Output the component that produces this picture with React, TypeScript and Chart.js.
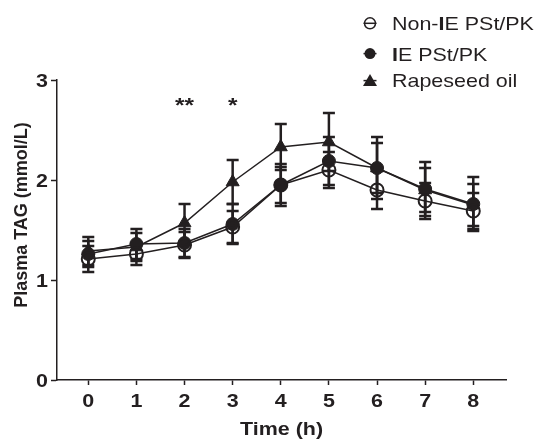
import { useEffect, useRef } from 'react';
import { Chart, registerables } from 'chart.js';

Chart.register(...registerables);

const times = [0, 1, 2, 3, 4, 5, 6, 7, 8];
const xTickValues = [0, 1, 2, 3, 4, 5, 6, 7, 8];
const yTickValues = [0, 1, 2, 3];

const seriesNames = ['Non-IE PSt/PK', 'IE PSt/PK', 'Rapeseed oil'];
const nonIE = [1.21, 1.26, 1.35, 1.53, 1.95, 2.1, 1.9, 1.79, 1.69];
const nonIEErr = [0.13, 0.11, 0.13, 0.16, 0.18, 0.18, 0.19, 0.18, 0.18];
const ie = [1.26, 1.36, 1.37, 1.56, 1.95, 2.19, 2.12, 1.91, 1.76];
const ieErr = [0.13, 0.15, 0.14, 0.2, 0.21, 0.24, 0.31, 0.27, 0.27];
const rapeseed = [1.29, 1.33, 1.57, 1.98, 2.33, 2.38, 2.12, 1.9, 1.75];
const rapeseedErr = [0.14, 0.14, 0.19, 0.22, 0.23, 0.29, 0.25, 0.22, 0.21];

const sigTimes = [2, 3];
const sigMarks = ['**', '*'];
const sigLevel = 2.68;

const xTitle = 'Time (h)';
const yTitle = 'Plasma TAG (mmol/L)';

const INK = '#231f20';
const FONT = '"Liberation Sans", Arial, sans-serif';
const SX = 1.16;

const errors = [nonIEErr, ieErr, rapeseedErr];

function stretchText(
  ctx: CanvasRenderingContext2D,
  text: string,
  x: number,
  y: number,
  align: CanvasTextAlign,
  font: string,
) {
  ctx.save();
  ctx.translate(x, y);
  ctx.scale(SX, 1);
  ctx.font = font;
  ctx.textAlign = align;
  ctx.textBaseline = 'alphabetic';
  ctx.fillText(text, 0, 0);
  ctx.restore();
}

function legendText(ctx: CanvasRenderingContext2D, text: string, x: number, y: number) {
  ctx.save();
  ctx.translate(x, y);
  ctx.scale(SX, 1);
  ctx.textAlign = 'left';
  ctx.textBaseline = 'alphabetic';
  const reg = `18.5px ${FONT}`;
  const bold = `bold 18.5px ${FONT}`;
  const k = text.indexOf('IE');
  let parts: [string, string][] = [[text, reg]];
  if (k >= 0) {
    parts = [
      [text.slice(0, k), reg],
      ['I', bold],
      [text.slice(k + 1), reg],
    ];
  }
  let cx = 0;
  parts.forEach(([t, f]) => {
    ctx.font = f;
    ctx.fillText(t, cx, 0);
    cx += ctx.measureText(t).width;
  });
  ctx.restore();
}

const errorBarPlugin = {
  id: 'errorBars',
  beforeDatasetsDraw(chart: any) {
    const ctx = chart.ctx;
    const y = chart.scales.y;
    ctx.save();
    ctx.strokeStyle = INK;
    ctx.lineWidth = 2.5;
    chart.data.datasets.forEach((ds: any, i: number) => {
      const meta = chart.getDatasetMeta(i);
      meta.data.forEach((pt: any, j: number) => {
        const v = ds.data[j].y;
        const e = errors[i][j];
        const top = y.getPixelForValue(v + e);
        const bot = y.getPixelForValue(v - e);
        const cx = pt.x;
        const hw = 6;
        ctx.beginPath();
        ctx.moveTo(cx, top);
        ctx.lineTo(cx, bot);
        ctx.moveTo(cx - hw, top);
        ctx.lineTo(cx + hw, top);
        ctx.moveTo(cx - hw, bot);
        ctx.lineTo(cx + hw, bot);
        ctx.stroke();
      });
    });
    ctx.restore();
  },
};

const decorPlugin = {
  id: 'decor',
  afterDraw(chart: any) {
    const ctx = chart.ctx as CanvasRenderingContext2D;
    const xs = chart.scales.x;
    const ys = chart.scales.y;
    ctx.save();
    ctx.fillStyle = INK;
    ctx.strokeStyle = INK;

    const tickFont = `bold 18.5px ${FONT}`;
    // x tick labels
    xTickValues.forEach((v) => {
      stretchText(ctx, String(v), xs.getPixelForValue(v), 407, 'center', tickFont);
    });
    // y tick labels
    yTickValues.forEach((v) => {
      stretchText(ctx, String(v), 48, ys.getPixelForValue(v) + 6.6, 'right', tickFont);
    });

    // x title
    stretchText(ctx, xTitle, (chart.chartArea.left + chart.chartArea.right) / 2, 435, 'center', `bold 18.5px ${FONT}`);

    // significance marks
    sigTimes.forEach((t, i) => {
      stretchText(ctx, sigMarks[i], xs.getPixelForValue(t), ys.getPixelForValue(sigLevel), 'center', `bold 21px ${FONT}`);
    });

    // y-axis title
    ctx.save();
    ctx.translate(22, 215);
    ctx.rotate(-Math.PI / 2);
    ctx.font = `bold 18px ${FONT}`;
    ctx.textAlign = 'center';
    ctx.textBaseline = 'middle';
    ctx.fillText(yTitle, 0, 0);
    ctx.restore();

    // legend
    const rowCenters = [23.3, 53.6, 80.6];
    const rowBase = [30, 60.6, 87.3];
    const mx = 370;
    seriesNames.forEach((name, i) => {
      const ry = rowCenters[i];
      ctx.lineWidth = 1.5;
      ctx.beginPath();
      ctx.moveTo(mx - 6.5, ry);
      ctx.lineTo(mx + 6.5, ry);
      ctx.stroke();
      if (i === 0) {
        ctx.lineWidth = 1.5;
        ctx.beginPath();
        ctx.arc(mx, ry, 5.5, 0, Math.PI * 2);
        ctx.stroke();
      } else if (i === 1) {
        ctx.beginPath();
        ctx.arc(mx, ry, 5.5, 0, Math.PI * 2);
        ctx.fill();
      } else {
        ctx.beginPath();
        ctx.moveTo(mx, ry - 6.5);
        ctx.lineTo(mx + 7, ry + 5.5);
        ctx.lineTo(mx - 7, ry + 5.5);
        ctx.closePath();
        ctx.fill();
      }
      legendText(ctx, name, 392, rowBase[i]);
    });
    ctx.restore();
  },
};

export default function App() {
  const ref = useRef<HTMLCanvasElement | null>(null);

  useEffect(() => {
    if (!ref.current) return;
    const mk = (vals: number[]) => times.map((t, i) => ({ x: t, y: vals[i] }));
    const chart = new Chart(ref.current, {
      type: 'line',
      data: {
        datasets: [
          {
            label: seriesNames[0],
            data: mk(nonIE),
            borderColor: INK,
            borderWidth: 1.5,
            pointStyle: 'circle',
            pointRadius: 6.5,
            pointBorderWidth: 2,
            pointBackgroundColor: 'rgba(0,0,0,0)',
            pointBorderColor: INK,
          },
          {
            label: seriesNames[1],
            data: mk(ie),
            borderColor: INK,
            borderWidth: 1.5,
            pointStyle: 'circle',
            pointRadius: 6.5,
            pointBorderWidth: 1,
            pointBackgroundColor: INK,
            pointBorderColor: INK,
          },
          {
            label: seriesNames[2],
            data: mk(rapeseed),
            borderColor: INK,
            borderWidth: 1.5,
            pointStyle: 'triangle',
            pointRadius: 7.5,
            pointBorderWidth: 1,
            pointBackgroundColor: INK,
            pointBorderColor: INK,
          },
        ],
      },
      options: {
        responsive: false,
        animation: false,
        layout: { padding: { top: 80, right: 30, left: 0, bottom: 0 } },
        plugins: {
          legend: { display: false },
          tooltip: { enabled: false },
        },
        scales: {
          x: {
            type: 'linear',
            min: -0.65,
            max: 8.68,
            afterBuildTicks: (s: any) => {
              s.ticks = xTickValues.map((v) => ({ value: v }));
            },
            afterFit: (s: any) => {
              s.height = 60;
            },
            grid: {
              drawOnChartArea: false,
              drawTicks: true,
              tickLength: 5,
              tickWidth: 1.5,
              color: INK,
            },
            border: { display: true, color: INK, width: 1.5 },
            ticks: {
              color: 'rgba(0,0,0,0)',
              padding: 3,
              font: { family: FONT, size: 18, weight: 'bold' },
              callback: (v: any) => String(v),
            },
          },
          y: {
            type: 'linear',
            min: 0,
            max: 3,
            afterBuildTicks: (s: any) => {
              s.ticks = yTickValues.map((v) => ({ value: v }));
            },
            afterFit: (s: any) => {
              s.width = 57;
            },
            grid: {
              drawOnChartArea: false,
              drawTicks: true,
              tickLength: 6,
              tickWidth: 1.5,
              color: INK,
            },
            border: { display: true, color: INK, width: 1.5 },
            ticks: {
              color: 'rgba(0,0,0,0)',
              padding: 1,
              font: { family: FONT, size: 18, weight: 'bold' },
              callback: (v: any) => String(v),
            },
          },
        },
      },
      plugins: [errorBarPlugin, decorPlugin],
    } as any);
    return () => chart.destroy();
  }, []);

  return (
    <div style={{ position: 'fixed', left: 0, top: 0, width: 536, height: 440, background: '#fff' }}>
      <canvas ref={ref} width={536} height={440} style={{ width: 536, height: 440 }} />
    </div>
  );
}
